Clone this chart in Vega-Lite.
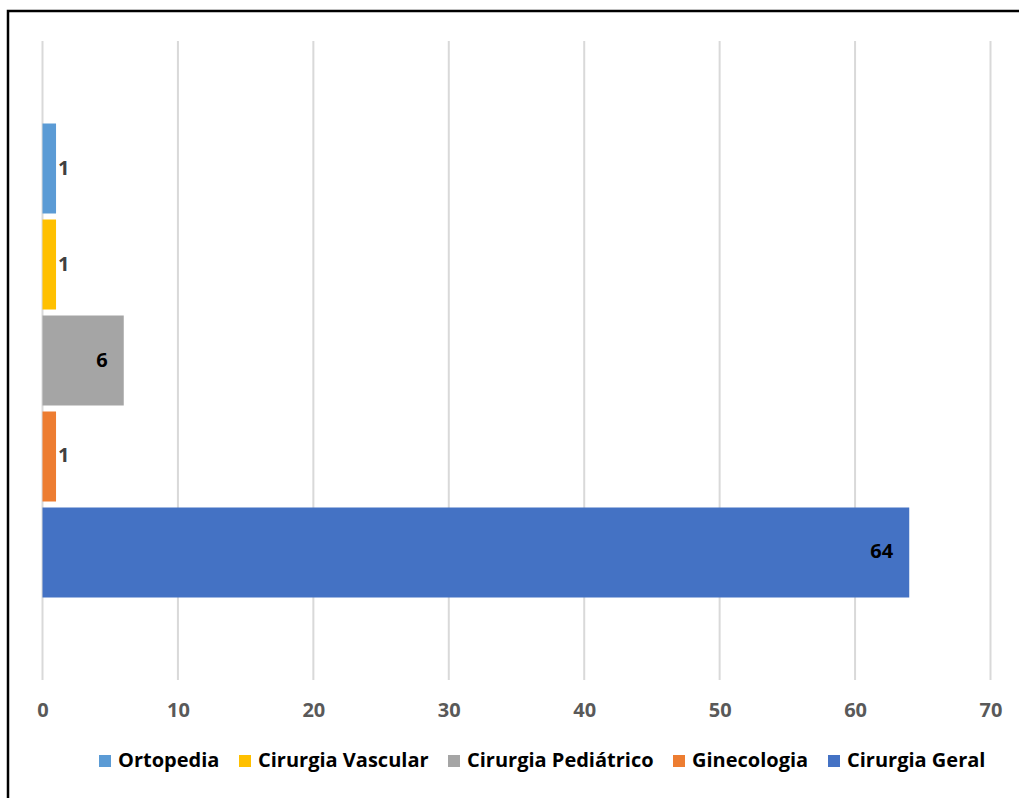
{
  "$schema": "https://vega.github.io/schema/vega-lite/v6.json",
  "width": 1014,
  "height": 790,
  "autosize": {"type": "none"},
  "padding": {"left": 8, "top": 11, "right": -3, "bottom": -3},
  "background": "white",
  "config": {
    "view": {"stroke": "black", "strokeWidth": 2.5},
    "font": "Open Sans"
  },
  "resolve": {"scale": {"y": "independent"}},
  "layer": [
    {
      "data": {"values": [{"v": 0}, {"v": 10}, {"v": 20}, {"v": 30}, {"v": 40}, {"v": 50}, {"v": 60}, {"v": 70}]},
      "mark": {"type": "rule", "color": "#D9D9D9", "strokeWidth": 2},
      "encoding": {
        "x": {
          "field": "v",
          "type": "quantitative",
          "scale": {"domain": [0, 70], "range": [34.5, 982.5], "nice": false, "zero": true},
          "axis": {
            "title": null,
            "values": [0, 10, 20, 30, 40, 50, 60, 70],
            "orient": "bottom",
            "offset": -121,
            "domain": false,
            "ticks": false,
            "grid": false,
            "labelFlush": false,
            "labelFont": "Open Sans",
            "labelFontWeight": "bold",
            "labelFontSize": 20,
            "labelColor": "#595959",
            "labelPadding": 20
          }
        },
        "y": {"datum": 0, "type": "quantitative", "scale": {"domain": [0, 1], "range": [30, 669], "nice": false, "zero": false}, "axis": null},
        "y2": {"datum": 1}
      }
    },
    {
      "data": {
        "values": [
          {"especialidade": "Ortopedia", "valor": 1},
          {"especialidade": "Cirurgia Vascular", "valor": 1},
          {"especialidade": "Cirurgia Pediátrico", "valor": 6},
          {"especialidade": "Ginecologia", "valor": 1},
          {"especialidade": "Cirurgia Geral", "valor": 64}
        ]
      },
      "encoding": {
        "y": {
          "field": "especialidade",
          "type": "nominal",
          "sort": ["Ortopedia", "Cirurgia Vascular", "Cirurgia Pediátrico", "Ginecologia", "Cirurgia Geral"],
          "scale": {"range": [30, 669], "paddingInner": 0.0625, "paddingOuter": 0.86},
          "axis": null
        },
        "x": {
          "field": "valor",
          "type": "quantitative"
        }
      },
      "layer": [
        {
          "mark": {"type": "bar"},
          "encoding": {
            "color": {
              "field": "especialidade",
              "type": "nominal",
              "scale": {
                "domain": ["Ortopedia", "Cirurgia Vascular", "Cirurgia Pediátrico", "Ginecologia", "Cirurgia Geral"],
                "range": ["#5B9BD5", "#FFC000", "#A5A5A5", "#ED7D31", "#4472C4"]
              },
              "legend": {
                "title": null,
                "orient": "none",
                "direction": "horizontal",
                "columns": 5,
                "legendX": 87,
                "legendY": 740,
                "symbolType": "square",
                "symbolSize": 144,
                "symbolStrokeWidth": 0,
                "symbolOpacity": 1,
                "labelFont": "Open Sans",
                "labelFontWeight": "bold",
                "labelFontSize": 20,
                "labelColor": "#000000",
                "labelOffset": 3,
                "columnPadding": 15,
                "labelLimit": 300
              }
            }
          }
        },
        {
          "transform": [{"filter": "datum.valor <= 3"}],
          "mark": {"type": "text", "align": "left", "baseline": "middle", "dx": 2, "font": "Open Sans", "fontWeight": "bold", "fontSize": 20, "color": "#404040"},
          "encoding": {"text": {"field": "valor", "type": "quantitative"}}
        },
        {
          "transform": [{"filter": "datum.valor > 3"}],
          "mark": {"type": "text", "align": "right", "baseline": "middle", "dx": -16, "font": "Open Sans", "fontWeight": "bold", "fontSize": 20, "color": "#000000"},
          "encoding": {"text": {"field": "valor", "type": "quantitative"}}
        }
      ]
    }
  ]
}
